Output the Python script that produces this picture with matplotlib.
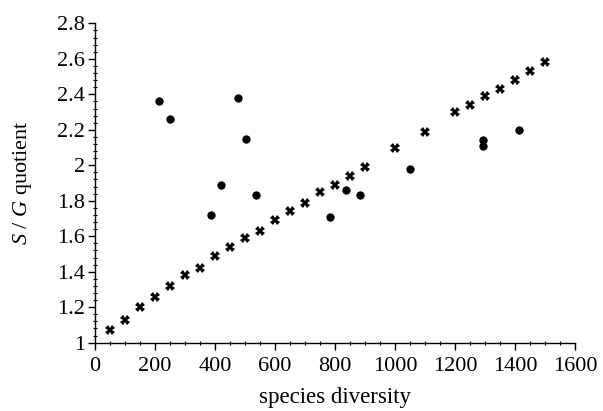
import matplotlib
matplotlib.use("Agg")
import matplotlib.pyplot as plt
from matplotlib.ticker import MultipleLocator

plt.rcParams['font.family'] = ['Liberation Serif', 'DejaVu Serif']
plt.rcParams['mathtext.fontset'] = 'custom'
plt.rcParams['mathtext.rm'] = 'Liberation Serif'
plt.rcParams['mathtext.it'] = 'Liberation Serif:italic'

# crosses: model / reference series
cross_x = [50, 100, 150, 200, 250, 300, 350, 400, 450, 500, 550, 600, 650, 700,
           750, 800, 850, 900, 1000, 1100, 1200, 1250, 1300, 1350, 1400, 1450, 1500]
cross_y = [1.07, 1.13, 1.20, 1.26, 1.32, 1.38, 1.42, 1.49, 1.54, 1.59, 1.63, 1.69,
           1.74, 1.79, 1.85, 1.89, 1.94, 1.99, 2.10, 2.19, 2.30, 2.34, 2.39, 2.43,
           2.48, 2.53, 2.58]

# dots: observed values
dot_x = [212, 249, 387, 421, 478, 502, 537, 783, 836, 882, 1051, 1292, 1294, 1413]
dot_y = [2.36, 2.26, 1.72, 1.89, 2.38, 2.15, 1.83, 1.71, 1.86, 1.83, 1.98, 2.11, 2.14, 2.20]

fig = plt.figure(figsize=(6.03, 4.11), dpi=100)
ax = fig.add_axes([0.1575, 0.1662, 0.796, 0.777])

ax.plot(cross_x, cross_y, linestyle='none', marker='X', markersize=7,
        color='black', markeredgewidth=0)
ax.plot(dot_x, dot_y, linestyle='none', marker='o', markersize=6,
        color='black', markeredgewidth=0)

ax.set_xlim(0, 1600)
ax.set_ylim(1, 2.8)
ax.xaxis.set_major_locator(MultipleLocator(200))
ax.xaxis.set_minor_locator(MultipleLocator(50))
ax.yaxis.set_minor_locator(MultipleLocator(0.04))
ax.set_yticks([1, 1.2, 1.4, 1.6, 1.8, 2, 2.2, 2.4, 2.6, 2.8])
ax.set_yticklabels(['1', '1.2', '1.4', '1.6', '1.8', '2', '2.2', '2.4', '2.6', '2.8'])

for side in ['top', 'right']:
    ax.spines[side].set_visible(False)
ax.spines['left'].set_linewidth(1.0)
ax.spines['bottom'].set_linewidth(1.0)

ax.tick_params(which='major', direction='out', length=5, width=1.0,
               labelsize=16, pad=2)
ax.tick_params(axis='x', which='major', pad=5)
ax.tick_params(which='minor', direction='inout', length=3, width=0.8)

ax.set_xlabel('species diversity', fontsize=16.5, labelpad=8)
ax.set_ylabel(r'$S$ / $G$ quotient', fontsize=16, labelpad=17)

fig.savefig('out.png', dpi=100)
